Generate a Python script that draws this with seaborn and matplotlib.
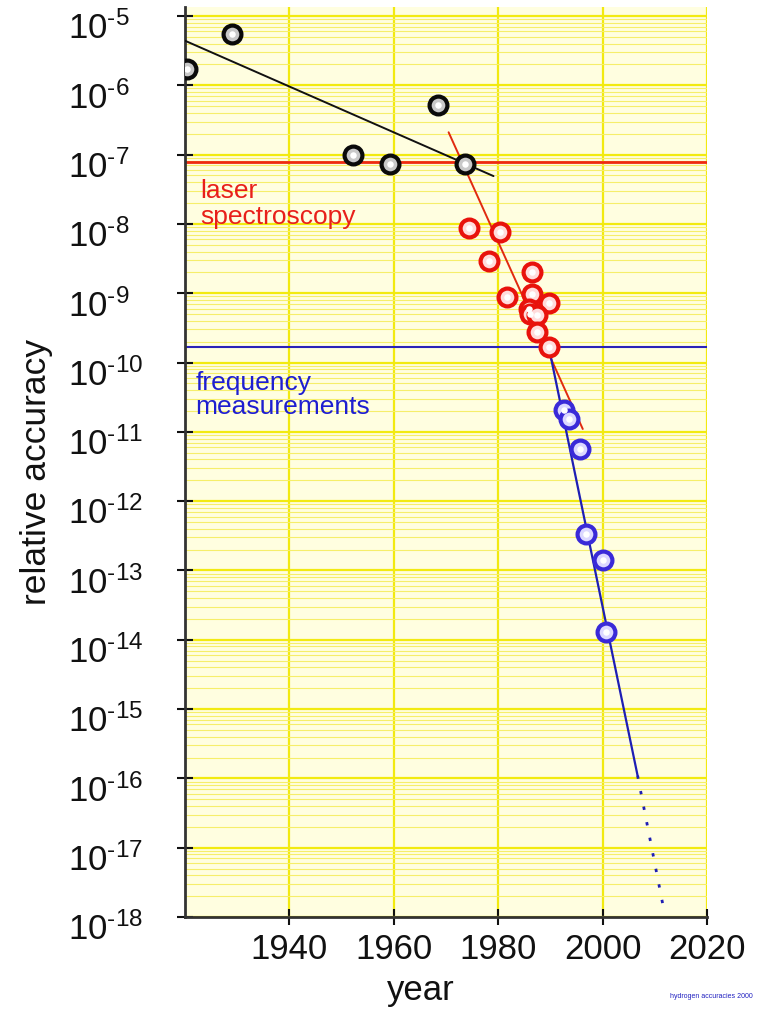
import matplotlib
matplotlib.use("Agg")
import matplotlib.pyplot as plt
import matplotlib.ticker as mticker
import matplotlib.transforms as mtransforms
import numpy as np
import pandas as pd
import seaborn as sns

# early (pre-laser) measurements
early_year = [1920.4, 1929.0, 1952.2, 1959.2, 1968.4, 1973.7]
early_acc = [1.7e-6, 5.5e-6, 1.0e-7, 7.3e-8, 5.2e-7, 7.3e-8]

# laser spectroscopy
laser_year = [1974.4, 1980.3, 1978.2, 1986.4, 1981.6, 1986.4,
              1989.7, 1985.9, 1986.1, 1987.5, 1987.5, 1989.7]
laser_acc = [8.6e-9, 7.6e-9, 2.9e-9, 2.0e-9, 8.9e-10, 9.8e-10,
             7.2e-10, 5.9e-10, 5.1e-10, 4.8e-10, 2.8e-10, 1.66e-10]

# frequency measurements
freq_year = [1992.6, 1993.6, 1995.6, 1996.8, 2000.1, 2000.7]
freq_acc = [2.1e-11, 1.55e-11, 5.6e-12, 3.4e-13, 1.4e-13, 1.3e-14]

# trend lines (end points)
early_fit_year = [1920.0, 1979.1]
early_fit_acc = [4.4e-6, 4.9e-8]
laser_fit_year = [1970.5, 1996.2]
laser_fit_acc = [2.1e-7, 1.1e-11]
freq_fit_year = [1989.7, 2006.7]
freq_fit_acc = [1.66e-10, 1.1e-16]
freq_extrap_year = [2006.7, 2011.8]
freq_extrap_acc = [1.1e-16, 1.2e-18]

laser_level = 7.8e-8
freq_level = 1.66e-10

year_ticks = [1940, 1960, 1980, 2000, 2020]
decade_exps = list(range(-18, -4))

sns.set_theme(style="ticks")
plt.rcParams["font.family"] = ["Liberation Sans", "DejaVu Sans"]
plt.rcParams["mathtext.fontset"] = "custom"
plt.rcParams["mathtext.rm"] = "Liberation Sans"
plt.rcParams["mathtext.it"] = "Liberation Sans"
plt.rcParams["mathtext.default"] = "regular"

fig = plt.figure(figsize=(7.62, 10.12), dpi=100)
ax = fig.add_axes([185 / 762, 1 - 918 / 1012, 522 / 762, 910 / 1012])
ax.set_facecolor("#fffee0")

ax.set_yscale("log")
ax.set_xlim(1920, 2020)
ax.set_ylim(1e-18, 10 ** -4.87)

# ticks + grid
ax.set_yticks([10.0 ** e for e in decade_exps])
ax.set_yticklabels(["$10^{\u2010%d}$" % abs(e) for e in decade_exps])
ax.yaxis.set_minor_locator(mticker.LogLocator(base=10, subs=np.arange(2, 10), numticks=200))
ax.yaxis.set_minor_formatter(mticker.NullFormatter())
ax.set_xticks(year_ticks)
ax.grid(True, which="major", axis="both", color="#f2ea10", linewidth=1.6, zorder=0)
ax.grid(True, which="minor", axis="y", color="#f6ee6a", linewidth=0.8, zorder=0)
ax.set_axisbelow(True)

# horizontal reference levels
ax.axhline(laser_level, color="#ee2a12", linewidth=2, zorder=2)
ax.axhline(freq_level, color="#2a22b8", linewidth=1.5, zorder=2)

# trend lines
sns.lineplot(x=early_fit_year, y=early_fit_acc, ax=ax, color="#111111", linewidth=1.4, zorder=3)
sns.lineplot(x=laser_fit_year, y=laser_fit_acc, ax=ax, color="#e02a10", linewidth=1.4, zorder=3)
sns.lineplot(x=freq_fit_year, y=freq_fit_acc, ax=ax, color="#1e1eb4", linewidth=1.6, zorder=3)
sns.lineplot(x=freq_extrap_year, y=freq_extrap_acc, ax=ax, color="#1e1eb4",
             linewidth=2, linestyle=(0, (1.2, 4.5)), zorder=3)

# data points
groups = [
    (early_year, early_acc, "#0a0a0a", "#c8c8c8"),
    (laser_year, laser_acc, "#e8120c", "#ffdcdc"),
    (freq_year, freq_acc, "#3a2ad8", "#dcd8ff"),
]
for yrs, acc, edge, face in groups:
    df = pd.DataFrame({"year": yrs, "acc": acc})
    sns.scatterplot(data=df, x="year", y="acc", ax=ax, s=165, color=face,
                    edgecolor=edge, linewidth=3.0, zorder=4, legend=False)
    sns.scatterplot(data=df, x="year", y="acc", ax=ax, s=22, color="white",
                    linewidth=0, zorder=5, legend=False)

# annotations
ax.text(1923, 10 ** -7.7, "laser\nspectroscopy", color="#e8201a", fontsize=19,
        linespacing=1.1, va="center", ha="left")
ax.text(1922, 10 ** -10.45, "frequency\nmeasurements", color="#1e1ed0", fontsize=19,
        linespacing=1.0, va="center", ha="left")

# axes styling
for side in ["top", "right"]:
    ax.spines[side].set_visible(False)
for side in ["left", "bottom"]:
    ax.spines[side].set_color("#333333")
    ax.spines[side].set_linewidth(2)
ax.tick_params(axis="y", which="major", direction="inout", length=11, width=1.5,
               labelsize=25, pad=79, colors="#111111")
ax.tick_params(axis="y", which="minor", length=0)
ax.tick_params(axis="x", which="major", direction="inout", length=11, width=1.5,
               labelsize=25, pad=5, colors="#111111")
shift = mtransforms.ScaledTranslation(0, -6 / 72, fig.dpi_scale_trans)
for lbl in ax.get_yticklabels():
    lbl.set_horizontalalignment("left")
    lbl.set_transform(lbl.get_transform() + shift)

ax.set_xlabel("year", fontsize=25, color="#111111")
ax.set_ylabel("relative accuracy", fontsize=25.5, color="#111111")
ax.xaxis.set_label_coords(0.452, -0.062)
ax.yaxis.set_label_coords(-0.252, 0.49)

fig.text(0.988, 0.012, "hydrogen accuracies 2000", color="#2020c0", fontsize=5,
         ha="right", va="bottom")

plt.savefig("out.png", dpi=100)
plt.close()
